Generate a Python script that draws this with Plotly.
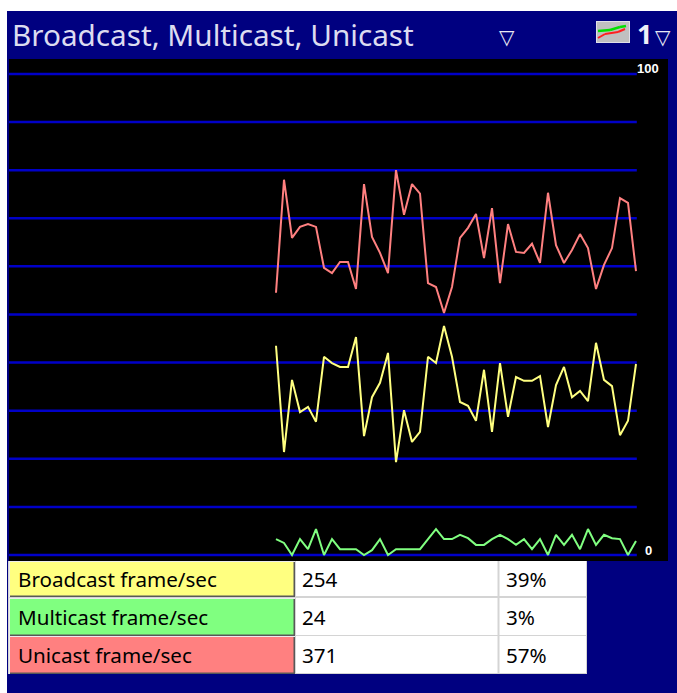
import plotly.graph_objects as go

W, H = 677, 693
PLOT_L, PLOT_R, PLOT_T, PLOT_B = 9, 668, 59, 561

title = "Broadcast, Multicast, Unicast"
unicast = [54.5, 78.0, 65.9, 68.2, 68.8, 68.2, 59.7, 58.6, 60.9, 60.9, 55.3, 77.1, 66.1, 62.8, 58.6, 80.0,
           70.7, 77.1, 75.1, 56.5, 55.7, 50.3, 55.7, 65.9, 68.0, 70.9, 61.7, 72.1, 56.5, 68.8, 63.0, 62.8,
           64.7, 60.7, 75.3, 64.4, 60.7, 63.4, 66.7, 63.8, 55.3, 60.3, 63.8, 74.2, 73.2, 59.0]
broadcast = [43.5, 21.4, 36.4, 29.7, 30.8, 27.7, 41.2, 39.9, 39.1, 39.1, 45.3, 24.7, 32.8, 35.8, 42.0, 19.3,
             30.1, 23.5, 25.6, 41.2, 39.9, 47.6, 41.2, 31.8, 31.0, 27.9, 38.5, 25.6, 39.9, 28.7, 37.0, 36.2,
             36.2, 37.2, 26.6, 35.3, 39.1, 32.8, 34.1, 32.0, 44.1, 36.4, 35.1, 24.9, 27.9, 39.7]
multicast = [3.3, 2.5, 0, 3.3, 1.2, 5.4, 0, 3.3, 1.2, 1.2, 1.2, 0, 1.0, 3.3, 0, 1.2,
             1.2, 1.2, 1.2, 3.3, 5.4, 3.3, 3.3, 4.2, 3.5, 2.1, 2.1, 3.3, 4.2, 3.3, 2.1, 3.3,
             1.2, 3.3, 0, 4.2, 2.1, 4.2, 1.2, 5.4, 2.1, 4.2, 3.5, 3.3, 0, 2.9]
sample_index = list(range(len(unicast)))
grid_levels = [0, 10, 20, 30, 40, 50, 60, 70, 80, 90, 100]
row_labels = ["Broadcast frame/sec", "Multicast frame/sec", "Unicast frame/sec"]
row_values = ["254", "24", "371"]
row_percent = ["39%", "3%", "57%"]
row_colors = ["#ffff80", "#80ff80", "#ff8080"]

GRID = "#0000c8"
NAVY = "#000080"


def px(x):
    return x / W


def py(y):
    return 1 - y / H


def rect(x0, y0, x1, y1, color, line=None, width=0):
    return dict(type="rect", xref="paper", yref="paper", x0=px(x0), x1=px(x1), y0=py(y1), y1=py(y0),
                fillcolor=color, line=dict(color=line or color, width=width), layer="above")


def seg(x0, y0, x1, y1, color, width=1):
    return dict(type="line", xref="paper", yref="paper", x0=px(x0), x1=px(x1), y0=py(y0), y1=py(y1),
                line=dict(color=color, width=width), layer="above")


def text(x, y, s, size=20.6, color="#000000", anchor="left", family="Noto Sans", bold=False):
    return dict(xref="paper", yref="paper", x=px(x), y=py(y), text=f"<b>{s}</b>" if bold else s, showarrow=False,
                xanchor=anchor, yanchor="middle", font=dict(family=family, size=size, color=color),
                borderpad=0, borderwidth=0)


fig = go.Figure()

for level in grid_levels:
    fig.add_trace(go.Scatter(x=[-33.375, sample_index[-1] + 0.1], y=[level, level], mode="lines",
                             line=dict(color=GRID, width=2.5), hoverinfo="skip", showlegend=False))

for values, color in ((unicast, "#ff8080"), (broadcast, "#ffff80"), (multicast, "#80ff80")):
    fig.add_trace(go.Scatter(x=sample_index, y=values, mode="lines",
                             line=dict(color=color, width=2), showlegend=False))

shapes = [
    rect(0, 0, W, 11, "#ffffff"),
    rect(0, 0, 7, H, "#ffffff"),
    # chart-type icon
    rect(596, 21, 630, 43, "#e0e0e8"),
    rect(597, 22, 629, 42, "#c0c0c0"),
    seg(598, 31, 610, 30, "#00e000", 2.5), seg(610, 30, 620, 27, "#00e000", 2.5), seg(620, 27, 626, 26, "#00e000", 2.5),
    seg(598, 38, 605, 34, "#ff2020", 2), seg(605, 34, 618, 32, "#ff2020", 2), seg(618, 32, 625, 29, "#ff2020", 2),
    # table backing: shows through as the cell borders
    rect(8, 561, 587, 674, "#d4d4d4"),
]

annotations = [
    text(12, 35, title, size=29.7, color="#dcdcf0"),
    text(507, 37, "▽", size=20, color="#e8e8f4", anchor="center", family="DejaVu Sans"),
    text(644, 33, "1", size=27, color="#f0f0f8", anchor="center", bold=True),
    text(663, 37, "▽", size=20, color="#e8e8f4", anchor="center", family="DejaVu Sans"),
    text(648, 68, "100", size=13, color="#ffffff", anchor="center", family="Liberation Sans", bold=True),
    text(648, 550, "0", size=13, color="#ffffff", anchor="center", family="Liberation Sans", bold=True),
]

row_tops = [561, 598, 636]
row_bottoms = [596, 635, 673]
for top, bottom, label, value, pct, color in zip(row_tops, row_bottoms, row_labels, row_values, row_percent, row_colors):
    shapes += [
        rect(9, top, 295, bottom + 1, "#ececec"),
        rect(10, top + 1, 295, bottom + 1, "#585858"),
        rect(10, top + 1, 293.5, bottom - 0.5, color),
        rect(296, top, 497.5, bottom, "#ffffff"),
        rect(499.5, top, 586, bottom, "#ffffff"),
    ]
    mid = (top + bottom) / 2
    annotations += [
        text(18, mid, label),
        text(302, mid, value),
        text(506, mid, pct),
    ]

fig.update_layout(
    width=W, height=H, autosize=False,
    margin=dict(l=0, r=0, t=0, b=0),
    paper_bgcolor=NAVY, plot_bgcolor="#000000",
    showlegend=False, shapes=shapes, annotations=annotations,
    xaxis=dict(domain=[px(PLOT_L), px(PLOT_R)], range=[-33.375, 49], visible=False, fixedrange=True),
    yaxis=dict(domain=[py(PLOT_B), py(PLOT_T)], range=[-1.25, 103.1], visible=False, fixedrange=True),
)
fig.write_html("out.html", config=dict(displayModeBar=False),
               post_script="document.body.style.margin='0';")
